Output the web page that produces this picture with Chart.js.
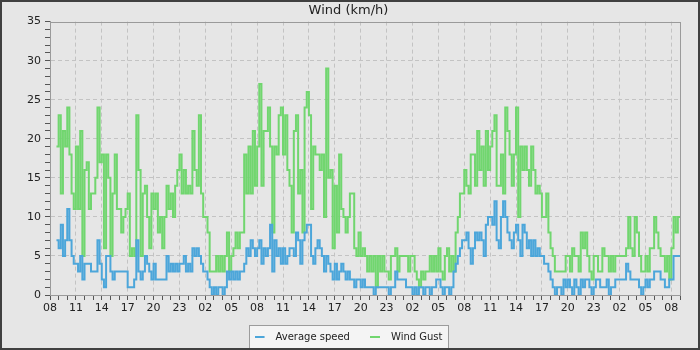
<!DOCTYPE html>
<html>
<head>
<meta charset="utf-8">
<title>Wind (km/h)</title>
<script src="https://cdn.jsdelivr.net/npm/chart.js@4.4.1/dist/chart.umd.min.js"></script>
<style>
  html, body { margin: 0; padding: 0; background: #e6e6e6; }
</style>
</head>
<body>
<canvas id="windChart" width="700" height="350"></canvas>
<script>
// time axis: hours counted from 08:00 of the first day
const startClock = 8;
const axisHours = 73;
const firstSample = 0.75; // first reading at 08:45
const sampleStep = 0.25; // one reading every 15 min

const seriesNames = ["Average speed", "Wind Gust"];
const seriesColors = ["#4ca6da", "#71d66f"];

// km/h, one value per 15 min
const avgSpeed = [
  7,
  6, 9, 5, 7, 11, 7, 5, 4, 4, 3, 5, 2,
  4, 4, 4, 3, 3, 3, 7, 4, 2, 1, 5, 5,
  3, 2, 3, 3, 3, 3, 3, 3, 1, 1, 1, 2,
  7, 3, 2, 3, 5, 4, 3, 2, 4, 2, 2, 2,
  2, 2, 5, 3, 4, 3, 4, 3, 4, 4, 5, 3,
  4, 3, 6, 5, 6, 5, 4, 3, 3, 2, 1, 0,
  1, 0, 1, 1, 0, 1, 3, 2, 3, 2, 3, 2,
  3, 3, 4, 6, 5, 7, 6, 5, 6, 7, 4, 6,
  5, 6, 9, 3, 7, 5, 6, 4, 6, 4, 5, 6,
  6, 5, 8, 7, 4, 7, 8, 9, 9, 5, 4, 6,
  7, 6, 5, 3, 5, 4, 3, 2, 4, 2, 3, 4,
  3, 2, 3, 2, 2, 1, 2, 2, 1, 2, 1, 1,
  1, 1, 0, 1, 1, 1, 1, 1, 1, 0, 1, 1,
  3, 2, 2, 2, 2, 1, 1, 1, 0, 1, 0, 1,
  1, 0, 1, 1, 0, 1, 1, 2, 2, 1, 0, 1,
  1, 0, 1, 3, 4, 5, 6, 7, 7, 8, 6, 4,
  6, 8, 7, 8, 7, 5, 9, 10, 10, 9, 12, 7,
  6, 10, 12, 10, 8, 7, 6, 8, 9, 7, 5, 9,
  8, 6, 7, 5, 7, 5, 6, 5, 5, 4, 4, 3,
  2, 1, 0, 1, 1, 0, 2, 1, 2, 1, 0, 2,
  1, 0, 2, 1, 2, 2, 1, 0, 1, 2, 2, 1,
  1, 1, 2, 0, 1, 1, 2, 2, 2, 2, 2, 4,
  3, 2, 2, 2, 2, 1, 0, 1, 2, 1, 2, 2,
  3, 3, 3, 2, 2, 1, 1, 2, 2, 5, 5, 5,
  5,
];

const windGust = [
  19,
  23, 13, 21, 19, 24, 18, 13, 11, 19, 11, 21, 5,
  16, 17, 11, 13, 13, 15, 24, 17, 18, 6, 18, 15,
  5, 13, 18, 11, 11, 8, 10, 11, 13, 5, 6, 5,
  23, 16, 5, 13, 14, 10, 6, 13, 11, 13, 8, 10,
  6, 10, 14, 11, 13, 10, 14, 16, 18, 13, 16, 13,
  14, 13, 21, 16, 14, 23, 13, 10, 10, 8, 3, 3,
  3, 5, 3, 5, 3, 5, 8, 3, 5, 6, 8, 6,
  8, 8, 18, 13, 19, 13, 21, 14, 19, 27, 14, 21,
  21, 24, 19, 8, 19, 18, 23, 24, 18, 23, 16, 14,
  8, 21, 23, 13, 16, 8, 24, 26, 23, 11, 19, 18,
  18, 16, 18, 10, 29, 15, 16, 6, 14, 8, 18, 11,
  10, 8, 10, 13, 13, 6, 5, 8, 5, 6, 5, 3,
  5, 3, 5, 1, 5, 3, 5, 3, 3, 2, 5, 5,
  6, 3, 5, 5, 5, 5, 3, 5, 5, 3, 2, 1,
  3, 2, 3, 3, 5, 3, 5, 3, 6, 3, 2, 5,
  6, 3, 5, 3, 8, 10, 13, 13, 16, 14, 13, 18,
  18, 14, 21, 16, 19, 14, 21, 16, 19, 21, 23, 14,
  14, 18, 13, 24, 21, 18, 14, 18, 24, 10, 19, 16,
  19, 16, 14, 19, 16, 13, 14, 13, 10, 10, 13, 8,
  6, 5, 3, 3, 3, 3, 3, 5, 5, 3, 6, 5,
  5, 3, 8, 6, 8, 5, 3, 2, 5, 5, 3, 3,
  6, 5, 5, 3, 5, 3, 5, 5, 5, 5, 5, 6,
  10, 6, 5, 10, 8, 5, 3, 3, 5, 3, 6, 6,
  10, 8, 6, 5, 5, 3, 5, 2, 6, 10, 8, 10,
  10,
];

const FONT = "'DejaVu Sans', sans-serif";

function toPoints(values) {
  return values.map((v, i) => ({ x: firstSample + i * sampleStep, y: v }));
}

function clockLabel(h) {
  return String((startClock + h) % 24).padStart(2, "0");
}

// short line sample for the legend, left part of a 16px slot
function legendMarker(color) {
  const c = document.createElement("canvas");
  c.width = 16;
  c.height = 2;
  const g = c.getContext("2d");
  g.fillStyle = color;
  g.fillRect(0, 0, 10, 2);
  return c;
}
const markers = seriesColors.map(legendMarker);

// background, legend frame, plot frame and outer border
const panelPlugin = {
  id: "panel",
  beforeDraw(chart) {
    const { ctx, width, height } = chart;
    ctx.save();
    ctx.fillStyle = "#e6e6e6";
    ctx.fillRect(0, 0, width, height);
    const boxes = chart.legend && chart.legend.legendHitBoxes;
    if (boxes && boxes.length) {
      const left = Math.round(Math.min(...boxes.map((b) => b.left))) - 6;
      const right = Math.round(Math.max(...boxes.map((b) => b.left + b.width))) + 7;
      const top = Math.round(boxes[0].top) - 7;
      ctx.fillStyle = "#f4f4f4";
      ctx.fillRect(left, top, right - left, height - top);
      ctx.strokeStyle = "#9c9c9c";
      ctx.lineWidth = 1;
      ctx.strokeRect(left + 0.5, top + 0.5, right - left - 1, height - top + 5);
    }
    ctx.restore();
  },
  beforeDatasetsDraw(chart) {
    const { ctx, chartArea: a } = chart;
    ctx.save();
    ctx.strokeStyle = "#9a9a9a";
    ctx.lineWidth = 1;
    ctx.strokeRect(Math.round(a.left) + 0.5, Math.round(a.top) + 0.5,
      Math.round(a.width), Math.round(a.height));
    ctx.restore();
  },
  afterDraw(chart) {
    const { ctx, width, height } = chart;
    ctx.save();
    ctx.strokeStyle = "#404040";
    ctx.lineWidth = 2;
    ctx.strokeRect(1, 1, width - 2, height - 2);
    ctx.restore();
  },
};

new Chart(document.getElementById("windChart"), {
  type: "line",
  data: {
    datasets: [
      {
        label: seriesNames[0],
        data: toPoints(avgSpeed),
        borderColor: seriesColors[0],
        backgroundColor: seriesColors[0],
        borderWidth: 2,
        stepped: true,
        pointRadius: 0,
      },
      {
        label: seriesNames[1],
        data: toPoints(windGust),
        borderColor: seriesColors[1],
        backgroundColor: seriesColors[1],
        borderWidth: 2,
        stepped: true,
        pointRadius: 0,
      },
    ],
  },
  options: {
    responsive: false,
    animation: false,
    events: [],
    layout: { padding: { left: 17, right: 20, top: 0, bottom: -2 } },
    scales: {
      x: {
        type: "linear",
        min: 0,
        max: axisHours,
        afterFit(scale) {
          scale.height = 17;
        },
        ticks: {
          stepSize: 1,
          autoSkip: false,
          maxRotation: 0,
          padding: 2,
          color: "#222",
          font: { family: FONT, size: 11 },
          callback: (v) => (v % 3 === 0 ? clockLabel(v) : ""),
        },
        grid: {
          color: (c) => (c.tick && c.tick.value % 3 === 0 && c.tick.value > 0 ? "#c3c3c3" : "rgba(0,0,0,0)"),
          tickColor: "#555",
          tickLength: 5,
        },
        border: { color: "#9a9a9a", dash: [4, 3] },
      },
      y: {
        min: 0,
        max: 35,
        afterFit(scale) {
          scale.width = 33;
        },
        ticks: {
          stepSize: 1,
          autoSkip: false,
          padding: 4,
          color: "#222",
          font: { family: FONT, size: 11 },
          callback: (v) => (v % 5 === 0 ? v : ""),
        },
        grid: {
          color: (c) => (c.tick && c.tick.value % 5 === 0 && c.tick.value > 0 && c.tick.value < 35 ? "#c3c3c3" : "rgba(0,0,0,0)"),
          tickColor: "#555",
          tickLength: 5,
        },
        border: { color: "#9a9a9a", dash: [4, 3] },
      },
    },
    plugins: {
      title: {
        display: true,
        text: "Wind (km/h)",
        color: "#222",
        font: { family: FONT, size: 13, weight: "normal" },
        padding: { top: 3, bottom: 3 },
      },
      legend: {
        position: "bottom",
        labels: {
          color: "#222",
          font: { family: FONT, size: 10 },
          usePointStyle: true,
          pointStyleWidth: 16,
          boxHeight: 2,
          padding: 20,
          generateLabels(chart) {
            return Chart.defaults.plugins.legend.labels
              .generateLabels(chart)
              .map((item, i) => ({ ...item, pointStyle: markers[i], lineWidth: 0 }));
          },
        },
      },
      tooltip: { enabled: false },
    },
  },
  plugins: [panelPlugin],
});
</script>
</body>
</html>
